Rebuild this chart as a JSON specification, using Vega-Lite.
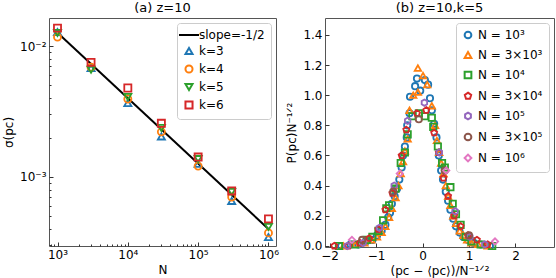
{
  "$schema": "https://vega.github.io/schema/vega-lite/v6.json",
  "padding": {"left": 2, "top": 1, "right": 1, "bottom": 2},
  "background": "white",
  "spacing": 5,
  "resolve": {"scale": {"color": "independent", "shape": "independent"}, "legend": {"color": "independent", "shape": "independent"}},
  "config": {
    "font": "DejaVu Sans",
    "view": {"stroke": "#555", "strokeWidth": 1},
    "axis": {
      "domain": false,
      "grid": false,
      "tickSize": -4,
      "tickColor": "#333",
      "tickWidth": 1,
      "labelPadding": 7,
      "labelFontSize": 12,
      "labelColor": "black",
      "titleFontSize": 12,
      "titleFontWeight": "normal",
      "titleColor": "black",
      "titlePadding": 4
    },
    "title": {"fontSize": 13, "fontWeight": "normal", "color": "black", "offset": 3},
    "legend": {
      "labelFontSize": 12,
      "labelColor": "black",
      "strokeColor": "#ccc",
      "fillColor": "white",
      "cornerRadius": 3,
      "padding": 6,
      "offset": 5,
      "symbolStrokeWidth": 2
    }
  },
  "datasets": {
    "slope": [
      {"series": "slope=-1/2", "N": 1000, "sigma": 0.01265},
      {"series": "slope=-1/2", "N": 1000000, "sigma": 0.0004}
    ],
    "left": [
      {"series": "k=3", "N": 1000, "sigma": 0.0128},
      {"series": "k=3", "N": 3000, "sigma": 0.0068},
      {"series": "k=3", "N": 10000, "sigma": 0.00367},
      {"series": "k=3", "N": 30000, "sigma": 0.00204},
      {"series": "k=3", "N": 100000, "sigma": 0.00126},
      {"series": "k=3", "N": 300000, "sigma": 0.000656},
      {"series": "k=3", "N": 1000000, "sigma": 0.000348},
      {"series": "k=4", "N": 1000, "sigma": 0.0117},
      {"series": "k=4", "N": 3000, "sigma": 0.0069},
      {"series": "k=4", "N": 10000, "sigma": 0.00394},
      {"series": "k=4", "N": 30000, "sigma": 0.00221},
      {"series": "k=4", "N": 100000, "sigma": 0.00121},
      {"series": "k=4", "N": 300000, "sigma": 0.000703},
      {"series": "k=4", "N": 1000000, "sigma": 0.000374},
      {"series": "k=5", "N": 1000, "sigma": 0.0126},
      {"series": "k=5", "N": 3000, "sigma": 0.0066},
      {"series": "k=5", "N": 10000, "sigma": 0.00408},
      {"series": "k=5", "N": 30000, "sigma": 0.00237},
      {"series": "k=5", "N": 100000, "sigma": 0.00137},
      {"series": "k=5", "N": 300000, "sigma": 0.000768},
      {"series": "k=5", "N": 1000000, "sigma": 0.000415},
      {"series": "k=6", "N": 1000, "sigma": 0.0137},
      {"series": "k=6", "N": 3000, "sigma": 0.0075},
      {"series": "k=6", "N": 10000, "sigma": 0.00478},
      {"series": "k=6", "N": 30000, "sigma": 0.00257},
      {"series": "k=6", "N": 100000, "sigma": 0.00142},
      {"series": "k=6", "N": 300000, "sigma": 0.000782},
      {"series": "k=6", "N": 1000000, "sigma": 0.000478}
    ],
    "right": [
      {"series": "N = 10³", "x": -1.75, "y": 0.0},
      {"series": "N = 10³", "x": -1.55, "y": 0.01},
      {"series": "N = 10³", "x": -1.38, "y": 0.01},
      {"series": "N = 10³", "x": -1.22, "y": 0.03},
      {"series": "N = 10³", "x": -1.08, "y": 0.04},
      {"series": "N = 10³", "x": -0.98, "y": 0.07},
      {"series": "N = 10³", "x": -0.88, "y": 0.1},
      {"series": "N = 10³", "x": -0.8, "y": 0.14},
      {"series": "N = 10³", "x": -0.74, "y": 0.19},
      {"series": "N = 10³", "x": -0.7, "y": 0.22},
      {"series": "N = 10³", "x": -0.66, "y": 0.28},
      {"series": "N = 10³", "x": -0.6, "y": 0.33},
      {"series": "N = 10³", "x": -0.55, "y": 0.38},
      {"series": "N = 10³", "x": -0.5, "y": 0.44},
      {"series": "N = 10³", "x": -0.45, "y": 0.52},
      {"series": "N = 10³", "x": -0.42, "y": 0.6},
      {"series": "N = 10³", "x": -0.38, "y": 0.66},
      {"series": "N = 10³", "x": -0.34, "y": 0.72},
      {"series": "N = 10³", "x": -0.33, "y": 0.8},
      {"series": "N = 10³", "x": -0.28, "y": 0.88},
      {"series": "N = 10³", "x": -0.27, "y": 0.99},
      {"series": "N = 10³", "x": -0.16, "y": 1.06},
      {"series": "N = 10³", "x": -0.12, "y": 1.11},
      {"series": "N = 10³", "x": -0.05, "y": 1.03},
      {"series": "N = 10³", "x": 0.05, "y": 1.1},
      {"series": "N = 10³", "x": 0.12, "y": 1.07},
      {"series": "N = 10³", "x": 0.16, "y": 0.98},
      {"series": "N = 10³", "x": 0.2, "y": 0.9},
      {"series": "N = 10³", "x": 0.25, "y": 0.81},
      {"series": "N = 10³", "x": 0.3, "y": 0.72},
      {"series": "N = 10³", "x": 0.35, "y": 0.6},
      {"series": "N = 10³", "x": 0.4, "y": 0.5},
      {"series": "N = 10³", "x": 0.44, "y": 0.44},
      {"series": "N = 10³", "x": 0.5, "y": 0.36},
      {"series": "N = 10³", "x": 0.55, "y": 0.3},
      {"series": "N = 10³", "x": 0.6, "y": 0.24},
      {"series": "N = 10³", "x": 0.66, "y": 0.18},
      {"series": "N = 10³", "x": 0.72, "y": 0.13},
      {"series": "N = 10³", "x": 0.8, "y": 0.09},
      {"series": "N = 10³", "x": 0.88, "y": 0.06},
      {"series": "N = 10³", "x": 0.98, "y": 0.04},
      {"series": "N = 10³", "x": 1.1, "y": 0.02},
      {"series": "N = 10³", "x": 1.25, "y": 0.01},
      {"series": "N = 10³", "x": 1.45, "y": 0.0},
      {"series": "N = 3×10³", "x": -1.7, "y": 0.0},
      {"series": "N = 3×10³", "x": -1.45, "y": 0.01},
      {"series": "N = 3×10³", "x": -1.25, "y": 0.02},
      {"series": "N = 3×10³", "x": -1.1, "y": 0.04},
      {"series": "N = 3×10³", "x": -0.98, "y": 0.06},
      {"series": "N = 3×10³", "x": -0.88, "y": 0.09},
      {"series": "N = 3×10³", "x": -0.8, "y": 0.13},
      {"series": "N = 3×10³", "x": -0.72, "y": 0.19},
      {"series": "N = 3×10³", "x": -0.66, "y": 0.25},
      {"series": "N = 3×10³", "x": -0.58, "y": 0.32},
      {"series": "N = 3×10³", "x": -0.52, "y": 0.4},
      {"series": "N = 3×10³", "x": -0.47, "y": 0.48},
      {"series": "N = 3×10³", "x": -0.42, "y": 0.56},
      {"series": "N = 3×10³", "x": -0.38, "y": 0.63},
      {"series": "N = 3×10³", "x": -0.32, "y": 0.71},
      {"series": "N = 3×10³", "x": -0.28, "y": 0.9},
      {"series": "N = 3×10³", "x": -0.2, "y": 1.0},
      {"series": "N = 3×10³", "x": -0.1, "y": 1.02},
      {"series": "N = 3×10³", "x": -0.1, "y": 1.18},
      {"series": "N = 3×10³", "x": 0.01, "y": 1.13},
      {"series": "N = 3×10³", "x": 0.1, "y": 1.07},
      {"series": "N = 3×10³", "x": 0.2, "y": 0.93},
      {"series": "N = 3×10³", "x": 0.27, "y": 0.8},
      {"series": "N = 3×10³", "x": 0.31, "y": 0.7},
      {"series": "N = 3×10³", "x": 0.36, "y": 0.62},
      {"series": "N = 3×10³", "x": 0.4, "y": 0.55},
      {"series": "N = 3×10³", "x": 0.45, "y": 0.48},
      {"series": "N = 3×10³", "x": 0.5, "y": 0.4},
      {"series": "N = 3×10³", "x": 0.55, "y": 0.33},
      {"series": "N = 3×10³", "x": 0.6, "y": 0.27},
      {"series": "N = 3×10³", "x": 0.66, "y": 0.2},
      {"series": "N = 3×10³", "x": 0.72, "y": 0.15},
      {"series": "N = 3×10³", "x": 0.8, "y": 0.1},
      {"series": "N = 3×10³", "x": 0.88, "y": 0.07},
      {"series": "N = 3×10³", "x": 0.96, "y": 0.04},
      {"series": "N = 3×10³", "x": 1.05, "y": 0.02},
      {"series": "N = 3×10³", "x": 1.2, "y": 0.01},
      {"series": "N = 3×10³", "x": 1.4, "y": 0.0},
      {"series": "N = 10⁴", "x": -1.8, "y": 0.0},
      {"series": "N = 10⁴", "x": -1.45, "y": 0.01},
      {"series": "N = 10⁴", "x": -1.2, "y": 0.04},
      {"series": "N = 10⁴", "x": -1.08, "y": 0.06},
      {"series": "N = 10⁴", "x": -0.95, "y": 0.1},
      {"series": "N = 10⁴", "x": -0.85, "y": 0.17},
      {"series": "N = 10⁴", "x": -0.78, "y": 0.25},
      {"series": "N = 10⁴", "x": -0.72, "y": 0.27},
      {"series": "N = 10⁴", "x": -0.58, "y": 0.38},
      {"series": "N = 10⁴", "x": -0.47, "y": 0.55},
      {"series": "N = 10⁴", "x": -0.38, "y": 0.62},
      {"series": "N = 10⁴", "x": -0.32, "y": 0.74},
      {"series": "N = 10⁴", "x": -0.22, "y": 0.86},
      {"series": "N = 10⁴", "x": -0.08, "y": 0.88},
      {"series": "N = 10⁴", "x": 0.05, "y": 0.86},
      {"series": "N = 10⁴", "x": 0.2, "y": 0.85},
      {"series": "N = 10⁴", "x": 0.23, "y": 0.79},
      {"series": "N = 10⁴", "x": 0.33, "y": 0.66},
      {"series": "N = 10⁴", "x": 0.42, "y": 0.55},
      {"series": "N = 10⁴", "x": 0.48, "y": 0.52},
      {"series": "N = 10⁴", "x": 0.6, "y": 0.39},
      {"series": "N = 10⁴", "x": 0.65, "y": 0.28},
      {"series": "N = 10⁴", "x": 0.72, "y": 0.21},
      {"series": "N = 10⁴", "x": 0.82, "y": 0.14},
      {"series": "N = 10⁴", "x": 0.93, "y": 0.06},
      {"series": "N = 10⁴", "x": 1.05, "y": 0.03},
      {"series": "N = 10⁴", "x": 1.25, "y": 0.01},
      {"series": "N = 10⁴", "x": 1.5, "y": 0.0},
      {"series": "N = 3×10⁴", "x": -1.9, "y": 0.0},
      {"series": "N = 3×10⁴", "x": -1.6, "y": 0.0},
      {"series": "N = 3×10⁴", "x": -1.35, "y": 0.02},
      {"series": "N = 3×10⁴", "x": -1.15, "y": 0.05},
      {"series": "N = 3×10⁴", "x": -0.95, "y": 0.11},
      {"series": "N = 3×10⁴", "x": -0.8, "y": 0.24},
      {"series": "N = 3×10⁴", "x": -0.65, "y": 0.35},
      {"series": "N = 3×10⁴", "x": -0.45, "y": 0.6},
      {"series": "N = 3×10⁴", "x": -0.35, "y": 0.77},
      {"series": "N = 3×10⁴", "x": -0.12, "y": 0.88},
      {"series": "N = 3×10⁴", "x": 0.08, "y": 0.9},
      {"series": "N = 3×10⁴", "x": 0.25, "y": 0.75},
      {"series": "N = 3×10⁴", "x": 0.35, "y": 0.62},
      {"series": "N = 3×10⁴", "x": 0.45, "y": 0.45},
      {"series": "N = 3×10⁴", "x": 0.55, "y": 0.33},
      {"series": "N = 3×10⁴", "x": 0.68, "y": 0.2},
      {"series": "N = 3×10⁴", "x": 0.82, "y": 0.13},
      {"series": "N = 3×10⁴", "x": 0.98, "y": 0.07},
      {"series": "N = 3×10⁴", "x": 1.17, "y": 0.04},
      {"series": "N = 3×10⁴", "x": 1.4, "y": 0.01},
      {"series": "N = 10⁵", "x": -1.62, "y": 0.0},
      {"series": "N = 10⁵", "x": -1.28, "y": 0.02},
      {"series": "N = 10⁵", "x": -0.93, "y": 0.12},
      {"series": "N = 10⁵", "x": -0.61, "y": 0.4},
      {"series": "N = 10⁵", "x": -0.32, "y": 0.83},
      {"series": "N = 10⁵", "x": 0.04, "y": 0.95},
      {"series": "N = 10⁵", "x": 0.36, "y": 0.62},
      {"series": "N = 10⁵", "x": 0.7, "y": 0.23},
      {"series": "N = 10⁵", "x": 1.02, "y": 0.06},
      {"series": "N = 10⁵", "x": 1.34, "y": 0.01},
      {"series": "N = 3×10⁵", "x": -1.3, "y": 0.04},
      {"series": "N = 3×10⁵", "x": -0.63, "y": 0.36},
      {"series": "N = 3×10⁵", "x": -0.08, "y": 0.84},
      {"series": "N = 3×10⁵", "x": 0.48, "y": 0.5},
      {"series": "N = 3×10⁵", "x": 1.0, "y": 0.07},
      {"series": "N = 10⁶", "x": -1.52, "y": 0.04},
      {"series": "N = 10⁶", "x": -0.49, "y": 0.48},
      {"series": "N = 10⁶", "x": 0.51, "y": 0.5},
      {"series": "N = 10⁶", "x": 1.56, "y": 0.03}
    ]
  },
  "hconcat": [
    {
      "width": 227,
      "height": 228,
      "title": "(a) z=10",
      "layer": [
        {
          "data": {"name": "left"},
          "mark": {"type": "point", "opacity": 0},
          "encoding": {
            "x": {"field": "N", "type": "quantitative",
                  "scale": {"type": "log", "domain": [757, 1280000], "nice": false},
                  "axis": {"orient": "bottom", "values": [800, 900, 2000, 3000, 4000, 5000, 6000, 7000, 8000, 9000, 20000, 30000, 40000, 50000, 60000, 70000, 80000, 90000, 200000, 300000, 400000, 500000, 600000, 700000, 800000, 900000], "labels": false, "tickSize": -2, "title": null}},
            "y": {"field": "sigma", "type": "quantitative",
                  "scale": {"type": "log", "domain": [0.000297, 0.01637], "nice": false},
                  "axis": {"orient": "left", "values": [0.0003, 0.0004, 0.0005, 0.0006, 0.0007, 0.0008, 0.0009, 0.002, 0.003, 0.004, 0.005, 0.006, 0.007, 0.008, 0.009], "labels": false, "tickSize": -2, "title": null}}
          }
        },
        {
          "data": {"name": "slope"},
          "mark": {"type": "line", "strokeWidth": 2},
          "encoding": {
            "x": {"field": "N", "type": "quantitative",
                  "axis": {"orient": "bottom", "values": [1000, 10000, 100000, 1000000], "title": "N",
                           "labelExpr": "datum.value >= 999999 ? '10⁶' : datum.value >= 99999 ? '10⁵' : datum.value >= 9999 ? '10⁴' : '10³'"}},
            "y": {"field": "sigma", "type": "quantitative",
                  "axis": {"orient": "left", "values": [0.001, 0.01], "title": "σ(pc)",
                           "labelExpr": "datum.value < 0.005 ? '10⁻³' : '10⁻²'"}},
            "color": {"field": "series", "type": "nominal",
                      "scale": {"domain": ["slope=-1/2", "k=3", "k=4", "k=5", "k=6"], "range": ["black", "#1f77b4", "#ff7f0e", "#2ca02c", "#d62728"]},
                      "legend": {"orient": "top-right", "title": null, "symbolSize": 400,
                                 "encode": {"symbols": {"update": {"size": {"signal": "datum.value === 'slope=-1/2' ? 400 : 50"}}}}}}
          }
        },
        {
          "data": {"name": "left"},
          "mark": {"type": "point", "filled": false, "strokeWidth": 1.8, "size": 50, "opacity": 1},
          "encoding": {
            "x": {"field": "N", "type": "quantitative", "axis": null},
            "y": {"field": "sigma", "type": "quantitative", "axis": null},
            "color": {"field": "series", "type": "nominal",
                      "legend": {"orient": "top-right", "title": null, "symbolSize": 400,
                                 "encode": {"symbols": {"update": {"size": {"signal": "datum.value === 'slope=-1/2' ? 400 : 50"}}}}}},
            "shape": {"field": "series", "type": "nominal",
                      "scale": {"domain": ["slope=-1/2", "k=3", "k=4", "k=5", "k=6"], "range": ["stroke", "triangle-up", "circle", "triangle-down", "square"]},
                      "legend": {"orient": "top-right", "title": null, "symbolSize": 400,
                                 "encode": {"symbols": {"update": {"size": {"signal": "datum.value === 'slope=-1/2' ? 400 : 50"}}}}}}
          }
        }
      ],
      "resolve": {"axis": {"x": "independent", "y": "independent"}}
    },
    {
      "width": 229,
      "height": 229,
      "title": "(b) z=10,k=5",
      "data": {"name": "right"},
      "mark": {"type": "point", "filled": false, "strokeWidth": 1.8, "size": 40, "opacity": 1},
      "encoding": {
        "x": {"field": "x", "type": "quantitative",
              "scale": {"domain": [-2.1, 2.83], "nice": false, "zero": false},
              "axis": {"values": [-2, -1, 0, 1, 2], "format": "d", "title": "(pc − ⟨pc⟩)/N⁻¹ᐟ²"}},
        "y": {"field": "y", "type": "quantitative",
              "scale": {"domain": [-0.007, 1.512], "nice": false, "zero": false},
              "axis": {"values": [0, 0.2, 0.4, 0.6, 0.8, 1.0, 1.2, 1.4], "format": ".1f", "title": "P(pc)N⁻¹ᐟ²"}},
        "color": {"field": "series", "type": "nominal", "sort": null,
                  "scale": {"domain": ["N = 10³", "N = 3×10³", "N = 10⁴", "N = 3×10⁴", "N = 10⁵", "N = 3×10⁵", "N = 10⁶"],
                            "range": ["#1f77b4", "#ff7f0e", "#2ca02c", "#d62728", "#9467bd", "#8c564b", "#e377c2"]},
                  "legend": {"orient": "top-right", "title": null, "symbolSize": 45, "rowPadding": 5}},
        "shape": {"field": "series", "type": "nominal", "sort": null,
                  "scale": {"domain": ["N = 10³", "N = 3×10³", "N = 10⁴", "N = 3×10⁴", "N = 10⁵", "N = 3×10⁵", "N = 10⁶"],
                            "range": ["circle", "triangle-up", "square", "M0,-1L0.951,-0.309L0.588,0.809L-0.588,0.809L-0.951,-0.309Z", "M0,-1L0.866,-0.5L0.866,0.5L0,1L-0.866,0.5L-0.866,-0.5Z", "circle", "diamond"]},
                  "legend": {"orient": "top-right", "title": null, "symbolSize": 45, "rowPadding": 5}}
      }
    }
  ]
}
